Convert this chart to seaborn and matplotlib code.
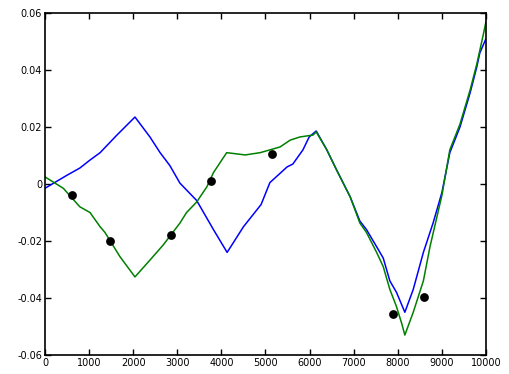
import numpy as np
import pandas as pd
import matplotlib
matplotlib.use('Agg')
import matplotlib.pyplot as plt
import seaborn as sns

# blue curve
blue_x = [0, 490, 790, 1020, 1250, 1620, 2040, 2380, 2610, 2830, 3060, 3440, 3820, 4130,
          4500, 4900, 5100, 5490, 5620, 5850, 5990, 6150, 6390, 6610, 6920, 7140, 7290,
          7520, 7670, 7820, 7970, 8160, 8350, 8580, 8800, 9000, 9180, 9410, 9640, 9790,
          9860, 10000]
blue_y = [-0.0015, 0.003, 0.0056, 0.0084, 0.011, 0.017, 0.0235, 0.0165, 0.011, 0.0065,
          0.0003, -0.0058, -0.016, -0.024, -0.015, -0.0072, 0.0005, 0.006, 0.007, 0.012,
          0.0165, 0.0186, 0.012, 0.005, -0.0045, -0.013, -0.016, -0.022, -0.026, -0.034,
          -0.038, -0.045, -0.037, -0.024, -0.0137, -0.003, 0.011, 0.020, 0.032, 0.041,
          0.046, 0.051]

# green curve
green_x = [0, 415, 790, 1020, 1250, 1360, 1700, 2040, 2380, 2680, 3060, 3210, 3440, 3670,
           3820, 4120, 4540, 4880, 5330, 5560, 5780, 6080, 6150, 6390, 6610, 6920, 7140,
           7290, 7520, 7670, 7820, 7970, 8090, 8160, 8350, 8580, 8730, 9000, 9180, 9410,
           9640, 9790, 9940, 10000]
green_y = [0.0025, -0.0015, -0.008, -0.010, -0.015, -0.017, -0.0255, -0.0326, -0.0267,
           -0.0214, -0.0137, -0.010, -0.0063, -0.001, 0.004, 0.011, 0.0102, 0.011, 0.013,
           0.0154, 0.0165, 0.0172, 0.0183, 0.012, 0.005, -0.0045, -0.0137, -0.017, -0.024,
           -0.029, -0.037, -0.043, -0.049, -0.053, -0.045, -0.034, -0.022, -0.004, 0.012,
           0.021, 0.033, 0.042, 0.0525, 0.057]

# black sample points
dots_x = [610, 1470, 2850, 3760, 5150, 7900, 8590]
dots_y = [-0.0039, -0.020, -0.018, 0.0012, 0.0104, -0.0457, -0.0395]

sns.set_style('ticks', {'axes.edgecolor': 'black', 'xtick.color': 'black',
                        'ytick.color': 'black', 'text.color': 'black'})
plt.rcParams['font.family'] = ['DejaVu Sans']

fig = plt.figure(figsize=(5.09, 3.74), dpi=100)
ax = fig.add_axes([0.0884, 0.0508, 0.8664, 0.9144])

blue = pd.DataFrame({'x': blue_x, 'y': blue_y})
green = pd.DataFrame({'x': green_x, 'y': green_y})
dots = pd.DataFrame({'x': dots_x, 'y': dots_y})

sns.lineplot(data=blue, x='x', y='y', color=(0, 0, 1), linewidth=1.1, sort=False, ax=ax)
sns.lineplot(data=green, x='x', y='y', color=(0, 0.5, 0), linewidth=1.1, sort=False, ax=ax)
sns.scatterplot(data=dots, x='x', y='y', color='black', s=40, edgecolor='black',
                linewidth=0, ax=ax, zorder=5)

ax.set_xlim(0, 10000)
ax.set_ylim(-0.06, 0.06)
ax.set_xticks(np.arange(0, 10001, 1000))
ax.set_yticks(np.arange(-0.06, 0.0601, 0.02))
ax.set_yticklabels(['-0.06', '-0.04', '-0.02', '0', '0.02', '0.04', '0.06'])
ax.set_xlabel('')
ax.set_ylabel('')
ax.tick_params(direction='in', top=True, right=True, length=4, width=1,
               labelsize=7, pad=2, colors='black')
for s in ax.spines.values():
    s.set_linewidth(1.2)
    s.set_color('black')
    s.set_visible(True)

fig.savefig('out.png', dpi=100)
